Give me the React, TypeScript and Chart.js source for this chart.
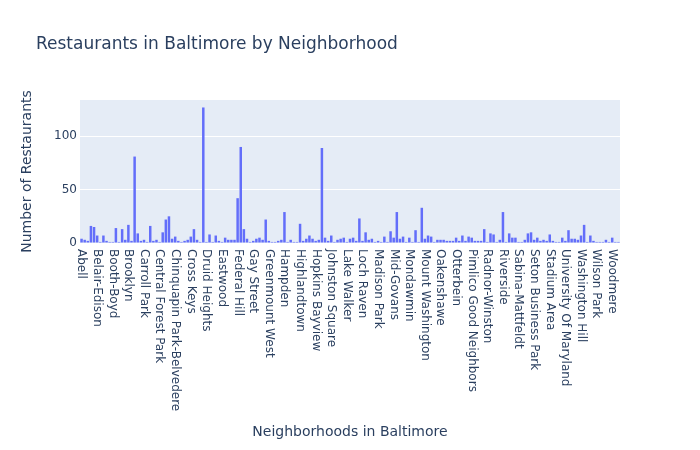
import React, { useEffect, useRef } from "react";
import { Chart, registerables } from "chart.js";

Chart.register(...registerables);

const chartTitle = "Restaurants in Baltimore by Neighborhood";
const xAxisTitle = "Neighborhoods in Baltimore";
const yAxisTitle = "Number of Restaurants";

const neighborhoods = [
  "Abell", "Arcadia", "Arlington", "Baltimore Highlands", "Barclay", "Belair-Edison", "Bellona-Gittings", "Better Waverly", "Beverly Hills", "Bolton Hill",
  "Booth-Boyd", "Brewers Hill", "Bridgeview/Greenlawn", "Broadway East", "Broening Manor", "Brooklyn", "Butchers Hill", "Canton", "Canton Industrial Area", "Carroll - Camden Industrial Area",
  "Carroll Park", "Carroll-South Hilton", "Carrollton Ridge", "Cedmont", "Cedonia", "Central Forest Park", "Central Park Heights", "Charles North", "Charles Village", "Cheswolde",
  "Chinquapin Park-Belvedere", "Clifton Park", "Coldspring", "Coldstream Homestead Montebello", "Coppin Heights/Ash-Co-East", "Cross Keys", "Curtis Bay", "Dickeyville", "Dorchester", "Downtown",
  "Druid Heights", "Druid Hill Park", "East Arlington", "East Baltimore Midway", "Easterwood", "Eastwood", "Edgewood", "Edmondson Village", "Ednor Gardens-Lakeside", "Ellwood Park/Monument",
  "Federal Hill", "Fells Point", "Forest Park", "Frankford", "Franklin Square", "Gay Street", "Glen", "Glen Oaks", "Graceland Park", "Greektown",
  "Greenmount West", "Greenspring", "Grove Park", "Guilford", "Gwynns Falls", "Hampden", "Hanlon-Longwood", "Harlem Park", "Harwood", "Herring Run Park",
  "Highlandtown", "Hillen", "Hoes Heights", "Hollins Market", "Homeland", "Hopkins Bayview", "Howard Park", "Inner Harbor", "Irvington", "Johns Hopkins Homewood",
  "Johnston Square", "Jones Falls Area", "Jonestown", "Kenilworth Park", "Keswick", "Lake Walker", "Lakeland", "Lauraville", "Levindale", "Little Italy",
  "Loch Raven", "Locust Point", "Locust Point Industrial Area", "Loyola/Notre Dame", "Lucille Park", "Madison Park", "Madison-Eastend", "Mayfield", "Mcelderry Park", "Medfield",
  "Mid-Govans", "Mid-Town Belvedere", "Middle East", "Midtown-Edmondson", "Milton-Montford", "Mondawmin", "Montebello", "Morrell Park", "Mount Holly", "Mount Vernon",
  "Mount Washington", "Mount Winans", "New Northwood", "New Southwest/Mount Clare", "North Harford Road", "Oakenshawe", "Oaklee", "Old Goucher", "Oldtown", "Orangeville",
  "Otterbein", "Overlea", "Patterson Park Neighborhood", "Pen Lucy", "Penn North", "Pimlico Good Neighbors", "Poppleton", "Port Covington", "Pulaski Industrial Area", "Purnell",
  "Radnor-Winston", "Ramblewood", "Remington", "Reservoir Hill", "Ridgely's Delight", "Riverside", "Rognel Heights", "Roland Park", "Rosebank", "Rosemont",
  "Sabina-Mattfeldt", "Saint Agnes", "Saint Helena", "Saint Paul", "Sandtown-Winchester", "Seton Business Park", "Seton Hill", "Sharp-Leadenhall", "Shipley Hill", "South Clifton Park",
  "Stadium Area", "Stonewood-Pentwood-Winston", "Ten Hills", "The Orchards", "Tuscany-Canterbury", "University Of Maryland", "Upton", "Violetville", "Wakefield", "Waltherson",
  "Washington Hill", "Washington Village/Pigtown", "West Arlington", "Westport", "Wilhelm Park", "Wilson Park", "Winchester", "Windsor Hills", "Woodberry", "Woodbourne Heights",
  "Woodmere", "Wyman Park", "York-Homeland",
];

const restaurantCounts = [
  4, 3, 2, 16, 15, 7, 1, 7, 2, 1,
  1, 14, 1, 13, 3, 17, 2, 81, 9, 2,
  3, 1, 16, 2, 3, 1, 10, 22, 25, 4,
  6, 2, 1, 2, 3, 6, 13, 3, 1, 127,
  1, 8, 1, 7, 2, 1, 5, 3, 3, 3,
  42, 90, 13, 4, 1, 2, 4, 5, 3, 22,
  2, 1, 1, 2, 3, 29, 1, 3, 1, 1,
  18, 2, 4, 7, 4, 2, 3, 89, 5, 2,
  7, 1, 3, 4, 5, 1, 4, 5, 2, 23,
  2, 10, 3, 4, 1, 2, 1, 6, 1, 11,
  5, 29, 4, 6, 1, 5, 1, 12, 1, 33,
  4, 7, 6, 1, 3, 3, 3, 2, 2, 2,
  5, 2, 7, 2, 6, 5, 2, 2, 2, 13,
  1, 9, 8, 1, 3, 29, 1, 9, 5, 5,
  1, 1, 3, 9, 10, 3, 5, 2, 3, 2,
  8, 2, 1, 1, 5, 2, 12, 4, 4, 3,
  7, 17, 1, 7, 2, 1, 1, 1, 3, 1,
  5, 1, 1,
];

const xTickLabels = [
  "Abell", "Belair-Edison", "Booth-Boyd", "Brooklyn", "Carroll Park", "Central Forest Park",
  "Chinquapin Park-Belvedere", "Cross Keys", "Druid Heights", "Eastwood", "Federal Hill", "Gay Street",
  "Greenmount West", "Hampden", "Highlandtown", "Hopkins Bayview", "Johnston Square", "Lake Walker",
  "Loch Raven", "Madison Park", "Mid-Govans", "Mondawmin", "Mount Washington", "Oakenshawe",
  "Otterbein", "Pimlico Good Neighbors", "Radnor-Winston", "Riverside", "Sabina-Mattfeldt",
  "Seton Business Park", "Stadium Area", "University Of Maryland", "Washington Hill", "Wilson Park", "Woodmere",
];

const yTickValues = [0, 50, 100];

const FONT = '"DejaVu Sans", Verdana, sans-serif';
const TEXT = "#2a3f5f";

export default function App() {
  const ref = useRef<HTMLCanvasElement>(null);

  useEffect(() => {
    if (!ref.current) return;
    const plotBg = {
      id: "plotBg",
      beforeDraw(chart: any) {
        const { ctx, chartArea: a } = chart;
        ctx.save();
        ctx.fillStyle = "#E5ECF6";
        ctx.fillRect(a.left, a.top, a.right - a.left, a.bottom - a.top);
        ctx.restore();
      },
    };
    const textPlugin = {
      id: "texts",
      afterDraw(chart: any) {
        const { ctx, chartArea: a } = chart;
        const xs = chart.scales.x;
        ctx.save();
        ctx.fillStyle = TEXT;
        ctx.font = `12px ${FONT}`;
        ctx.textAlign = "left";
        ctx.textBaseline = "middle";
        xTickLabels.forEach((name) => {
          const i = neighborhoods.indexOf(name);
          if (i < 0) return;
          const x = xs.getPixelForValue(i);
          ctx.save();
          ctx.translate(x, a.bottom + 6);
          ctx.rotate(Math.PI / 2);
          ctx.fillText(name, 0, 0);
          ctx.restore();
        });
        ctx.font = `17px ${FONT}`;
        ctx.textAlign = "left";
        ctx.textBaseline = "middle";
        ctx.fillText(chartTitle, 36, 45);
        ctx.restore();
      },
    };

    const chart = new Chart(ref.current, {
      type: "bar",
      data: {
        labels: neighborhoods,
        datasets: [
          {
            data: restaurantCounts,
            backgroundColor: "#636efa",
            borderWidth: 0,
            categoryPercentage: 0.8,
            barPercentage: 1,
          },
        ],
      },
      options: {
        animation: false,
        responsive: false,
        maintainAspectRatio: false,
        layout: { padding: { top: 100, right: 80, left: 0, bottom: 0 } },
        plugins: {
          legend: { display: false },
          tooltip: { enabled: false },
          title: { display: false },
        },
        scales: {
          x: {
            type: "category",
            offset: true,
            grid: { display: false },
            border: { display: false },
            ticks: { display: false },
            title: {
              display: true,
              text: xAxisTitle,
              color: TEXT,
              font: { family: FONT, size: 14 },
              padding: { top: 0, bottom: 9 },
            },
            afterFit(s: any) {
              s.height = 207;
            },
          },
          y: {
            min: 0,
            max: 134,
            grid: { color: "#ffffff", lineWidth: 1, drawTicks: false },
            border: { display: false },
            afterBuildTicks(s: any) {
              s.ticks = yTickValues.map((v) => ({ value: v }));
            },
            ticks: {
              padding: 3,
              color: TEXT,
              font: { family: FONT, size: 12 },
            },
            title: {
              display: true,
              text: yAxisTitle,
              color: TEXT,
              font: { family: FONT, size: 14 },
              padding: { top: 19, bottom: 0 },
            },
            afterFit(s: any) {
              s.width = 80;
            },
          },
        },
      },
      plugins: [plotBg, textPlugin],
    });
    return () => chart.destroy();
  }, []);

  return (
    <div style={{ position: "absolute", left: 0, top: 0, width: 700, height: 450, background: "#fff" }}>
      <canvas ref={ref} width={700} height={450} />
    </div>
  );
}
